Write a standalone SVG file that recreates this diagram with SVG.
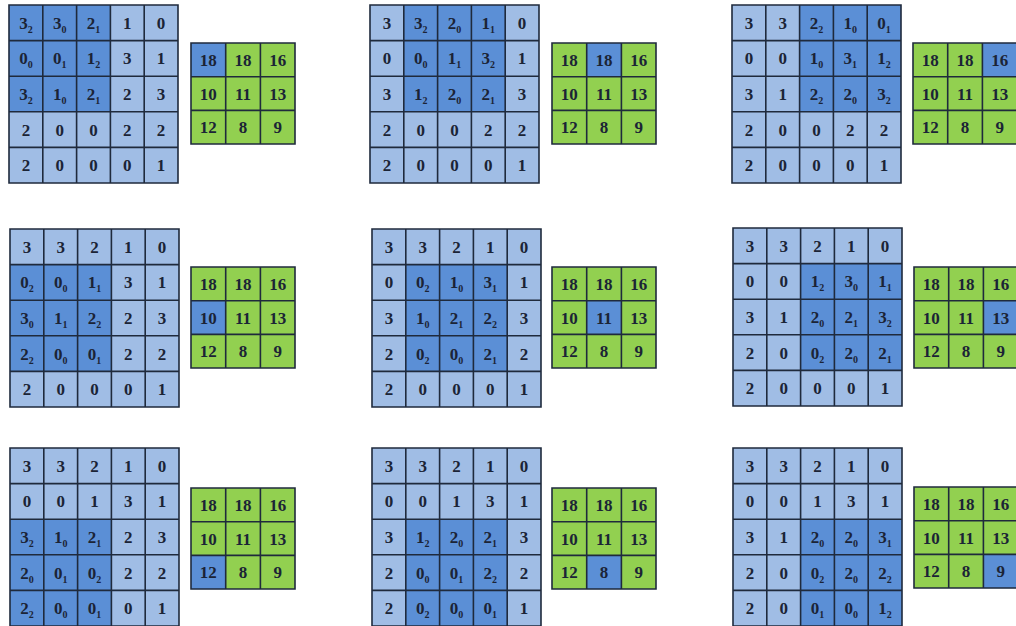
<svg xmlns="http://www.w3.org/2000/svg" xmlns:xlink="http://www.w3.org/1999/xlink" width="1016" height="626" viewBox="0 0 1016 626">
<style>
.L{fill:#a0bde5}
.D{fill:#5b8fd6}
.G{fill:#92d050}
.grid{fill:none;stroke:#1f2a3c;stroke-width:1.6}
text{font-family:"Liberation Serif","Times New Roman",serif;font-weight:bold;font-size:17px;fill:#1b2436;text-anchor:middle}
.s{font-size:10px}
</style>
<defs>
<path id="grid5" class="grid" d="M0,0H169V178H0Z M33.8,0V178 M67.6,0V178 M101.4,0V178 M135.2,0V178 M0,35.6H169 M0,71.2H169 M0,106.8H169 M0,142.4H169"/>
<path id="grid3" class="grid" d="M0,0H104V101H0Z M34.7,0V101 M69.4,0V101 M0,33.7H104 M0,67.4H104"/>
</defs>
<rect width="1016" height="626" fill="#ffffff"/>
<g id="connectors"/>

<!-- Panel 1 -->
<g id="panel-1" transform="translate(9,5)">
<rect class="L" width="169" height="178"/>
<rect class="D" x="0" y="0" width="101.4" height="106.8"/>
<use xlink:href="#grid5" href="#grid5"/>
<text x="16.9" y="23.8">3<tspan class="s" dy="4">2</tspan></text>
<text x="50.7" y="23.8">3<tspan class="s" dy="4">0</tspan></text>
<text x="84.5" y="23.8">2<tspan class="s" dy="4">1</tspan></text>
<text x="118.3" y="23.8">1</text>
<text x="152.1" y="23.8">0</text>
<text x="16.9" y="59.4">0<tspan class="s" dy="4">0</tspan></text>
<text x="50.7" y="59.4">0<tspan class="s" dy="4">1</tspan></text>
<text x="84.5" y="59.4">1<tspan class="s" dy="4">2</tspan></text>
<text x="118.3" y="59.4">3</text>
<text x="152.1" y="59.4">1</text>
<text x="16.9" y="95">3<tspan class="s" dy="4">2</tspan></text>
<text x="50.7" y="95">1<tspan class="s" dy="4">0</tspan></text>
<text x="84.5" y="95">2<tspan class="s" dy="4">1</tspan></text>
<text x="118.3" y="95">2</text>
<text x="152.1" y="95">3</text>
<text x="16.9" y="130.6">2</text>
<text x="50.7" y="130.6">0</text>
<text x="84.5" y="130.6">0</text>
<text x="118.3" y="130.6">2</text>
<text x="152.1" y="130.6">2</text>
<text x="16.9" y="166.2">2</text>
<text x="50.7" y="166.2">0</text>
<text x="84.5" y="166.2">0</text>
<text x="118.3" y="166.2">0</text>
<text x="152.1" y="166.2">1</text>
<g transform="translate(182,38)">
<rect class="G" width="104" height="101"/>
<rect class="D" x="0" y="0" width="34.7" height="33.7"/>
<use xlink:href="#grid3" href="#grid3"/>
<text x="17.35" y="22.9">18</text><text x="52.05" y="22.9">18</text><text x="86.75" y="22.9">16</text>
<text x="17.35" y="56.6">10</text><text x="52.05" y="56.6">11</text><text x="86.75" y="56.6">13</text>
<text x="17.35" y="90.3">12</text><text x="52.05" y="90.3">8</text><text x="86.75" y="90.3">9</text>
</g>
</g>

<!-- Panel 2 -->
<g id="panel-2" transform="translate(370,5)">
<rect class="L" width="169" height="178"/>
<rect class="D" x="33.8" y="0" width="101.4" height="106.8"/>
<use xlink:href="#grid5" href="#grid5"/>
<text x="16.9" y="23.8">3</text>
<text x="50.7" y="23.8">3<tspan class="s" dy="4">2</tspan></text>
<text x="84.5" y="23.8">2<tspan class="s" dy="4">0</tspan></text>
<text x="118.3" y="23.8">1<tspan class="s" dy="4">1</tspan></text>
<text x="152.1" y="23.8">0</text>
<text x="16.9" y="59.4">0</text>
<text x="50.7" y="59.4">0<tspan class="s" dy="4">0</tspan></text>
<text x="84.5" y="59.4">1<tspan class="s" dy="4">1</tspan></text>
<text x="118.3" y="59.4">3<tspan class="s" dy="4">2</tspan></text>
<text x="152.1" y="59.4">1</text>
<text x="16.9" y="95">3</text>
<text x="50.7" y="95">1<tspan class="s" dy="4">2</tspan></text>
<text x="84.5" y="95">2<tspan class="s" dy="4">0</tspan></text>
<text x="118.3" y="95">2<tspan class="s" dy="4">1</tspan></text>
<text x="152.1" y="95">3</text>
<text x="16.9" y="130.6">2</text>
<text x="50.7" y="130.6">0</text>
<text x="84.5" y="130.6">0</text>
<text x="118.3" y="130.6">2</text>
<text x="152.1" y="130.6">2</text>
<text x="16.9" y="166.2">2</text>
<text x="50.7" y="166.2">0</text>
<text x="84.5" y="166.2">0</text>
<text x="118.3" y="166.2">0</text>
<text x="152.1" y="166.2">1</text>
<g transform="translate(182,38)">
<rect class="G" width="104" height="101"/>
<rect class="D" x="34.7" y="0" width="34.7" height="33.7"/>
<use xlink:href="#grid3" href="#grid3"/>
<text x="17.35" y="22.9">18</text><text x="52.05" y="22.9">18</text><text x="86.75" y="22.9">16</text>
<text x="17.35" y="56.6">10</text><text x="52.05" y="56.6">11</text><text x="86.75" y="56.6">13</text>
<text x="17.35" y="90.3">12</text><text x="52.05" y="90.3">8</text><text x="86.75" y="90.3">9</text>
</g>
</g>

<!-- Panel 3 -->
<g id="panel-3" transform="translate(732,5)">
<rect class="L" width="169" height="178"/>
<rect class="D" x="67.6" y="0" width="101.4" height="106.8"/>
<use xlink:href="#grid5" href="#grid5"/>
<text x="16.9" y="23.8">3</text>
<text x="50.7" y="23.8">3</text>
<text x="84.5" y="23.8">2<tspan class="s" dy="4">2</tspan></text>
<text x="118.3" y="23.8">1<tspan class="s" dy="4">0</tspan></text>
<text x="152.1" y="23.8">0<tspan class="s" dy="4">1</tspan></text>
<text x="16.9" y="59.4">0</text>
<text x="50.7" y="59.4">0</text>
<text x="84.5" y="59.4">1<tspan class="s" dy="4">0</tspan></text>
<text x="118.3" y="59.4">3<tspan class="s" dy="4">1</tspan></text>
<text x="152.1" y="59.4">1<tspan class="s" dy="4">2</tspan></text>
<text x="16.9" y="95">3</text>
<text x="50.7" y="95">1</text>
<text x="84.5" y="95">2<tspan class="s" dy="4">2</tspan></text>
<text x="118.3" y="95">2<tspan class="s" dy="4">0</tspan></text>
<text x="152.1" y="95">3<tspan class="s" dy="4">2</tspan></text>
<text x="16.9" y="130.6">2</text>
<text x="50.7" y="130.6">0</text>
<text x="84.5" y="130.6">0</text>
<text x="118.3" y="130.6">2</text>
<text x="152.1" y="130.6">2</text>
<text x="16.9" y="166.2">2</text>
<text x="50.7" y="166.2">0</text>
<text x="84.5" y="166.2">0</text>
<text x="118.3" y="166.2">0</text>
<text x="152.1" y="166.2">1</text>
<g transform="translate(181,38)">
<rect class="G" width="104" height="101"/>
<rect class="D" x="69.4" y="0" width="34.7" height="33.7"/>
<use xlink:href="#grid3" href="#grid3"/>
<text x="17.35" y="22.9">18</text><text x="52.05" y="22.9">18</text><text x="86.75" y="22.9">16</text>
<text x="17.35" y="56.6">10</text><text x="52.05" y="56.6">11</text><text x="86.75" y="56.6">13</text>
<text x="17.35" y="90.3">12</text><text x="52.05" y="90.3">8</text><text x="86.75" y="90.3">9</text>
</g>
</g>

<!-- Panel 4 -->
<g id="panel-4" transform="translate(10,229)">
<rect class="L" width="169" height="178"/>
<rect class="D" x="0" y="35.6" width="101.4" height="106.8"/>
<use xlink:href="#grid5" href="#grid5"/>
<text x="16.9" y="23.8">3</text>
<text x="50.7" y="23.8">3</text>
<text x="84.5" y="23.8">2</text>
<text x="118.3" y="23.8">1</text>
<text x="152.1" y="23.8">0</text>
<text x="16.9" y="59.4">0<tspan class="s" dy="4">2</tspan></text>
<text x="50.7" y="59.4">0<tspan class="s" dy="4">0</tspan></text>
<text x="84.5" y="59.4">1<tspan class="s" dy="4">1</tspan></text>
<text x="118.3" y="59.4">3</text>
<text x="152.1" y="59.4">1</text>
<text x="16.9" y="95">3<tspan class="s" dy="4">0</tspan></text>
<text x="50.7" y="95">1<tspan class="s" dy="4">1</tspan></text>
<text x="84.5" y="95">2<tspan class="s" dy="4">2</tspan></text>
<text x="118.3" y="95">2</text>
<text x="152.1" y="95">3</text>
<text x="16.9" y="130.6">2<tspan class="s" dy="4">2</tspan></text>
<text x="50.7" y="130.6">0<tspan class="s" dy="4">0</tspan></text>
<text x="84.5" y="130.6">0<tspan class="s" dy="4">1</tspan></text>
<text x="118.3" y="130.6">2</text>
<text x="152.1" y="130.6">2</text>
<text x="16.9" y="166.2">2</text>
<text x="50.7" y="166.2">0</text>
<text x="84.5" y="166.2">0</text>
<text x="118.3" y="166.2">0</text>
<text x="152.1" y="166.2">1</text>
<g transform="translate(181,38)">
<rect class="G" width="104" height="101"/>
<rect class="D" x="0" y="33.7" width="34.7" height="33.7"/>
<use xlink:href="#grid3" href="#grid3"/>
<text x="17.35" y="22.9">18</text><text x="52.05" y="22.9">18</text><text x="86.75" y="22.9">16</text>
<text x="17.35" y="56.6">10</text><text x="52.05" y="56.6">11</text><text x="86.75" y="56.6">13</text>
<text x="17.35" y="90.3">12</text><text x="52.05" y="90.3">8</text><text x="86.75" y="90.3">9</text>
</g>
</g>

<!-- Panel 5 -->
<g id="panel-5" transform="translate(372,229)">
<rect class="L" width="169" height="178"/>
<rect class="D" x="33.8" y="35.6" width="101.4" height="106.8"/>
<use xlink:href="#grid5" href="#grid5"/>
<text x="16.9" y="23.8">3</text>
<text x="50.7" y="23.8">3</text>
<text x="84.5" y="23.8">2</text>
<text x="118.3" y="23.8">1</text>
<text x="152.1" y="23.8">0</text>
<text x="16.9" y="59.4">0</text>
<text x="50.7" y="59.4">0<tspan class="s" dy="4">2</tspan></text>
<text x="84.5" y="59.4">1<tspan class="s" dy="4">0</tspan></text>
<text x="118.3" y="59.4">3<tspan class="s" dy="4">1</tspan></text>
<text x="152.1" y="59.4">1</text>
<text x="16.9" y="95">3</text>
<text x="50.7" y="95">1<tspan class="s" dy="4">0</tspan></text>
<text x="84.5" y="95">2<tspan class="s" dy="4">1</tspan></text>
<text x="118.3" y="95">2<tspan class="s" dy="4">2</tspan></text>
<text x="152.1" y="95">3</text>
<text x="16.9" y="130.6">2</text>
<text x="50.7" y="130.6">0<tspan class="s" dy="4">2</tspan></text>
<text x="84.5" y="130.6">0<tspan class="s" dy="4">0</tspan></text>
<text x="118.3" y="130.6">2<tspan class="s" dy="4">1</tspan></text>
<text x="152.1" y="130.6">2</text>
<text x="16.9" y="166.2">2</text>
<text x="50.7" y="166.2">0</text>
<text x="84.5" y="166.2">0</text>
<text x="118.3" y="166.2">0</text>
<text x="152.1" y="166.2">1</text>
<g transform="translate(180,38)">
<rect class="G" width="104" height="101"/>
<rect class="D" x="34.7" y="33.7" width="34.7" height="33.7"/>
<use xlink:href="#grid3" href="#grid3"/>
<text x="17.35" y="22.9">18</text><text x="52.05" y="22.9">18</text><text x="86.75" y="22.9">16</text>
<text x="17.35" y="56.6">10</text><text x="52.05" y="56.6">11</text><text x="86.75" y="56.6">13</text>
<text x="17.35" y="90.3">12</text><text x="52.05" y="90.3">8</text><text x="86.75" y="90.3">9</text>
</g>
</g>

<!-- Panel 6 -->
<g id="panel-6" transform="translate(733,228)">
<rect class="L" width="169" height="178"/>
<rect class="D" x="67.6" y="35.6" width="101.4" height="106.8"/>
<use xlink:href="#grid5" href="#grid5"/>
<text x="16.9" y="23.8">3</text>
<text x="50.7" y="23.8">3</text>
<text x="84.5" y="23.8">2</text>
<text x="118.3" y="23.8">1</text>
<text x="152.1" y="23.8">0</text>
<text x="16.9" y="59.4">0</text>
<text x="50.7" y="59.4">0</text>
<text x="84.5" y="59.4">1<tspan class="s" dy="4">2</tspan></text>
<text x="118.3" y="59.4">3<tspan class="s" dy="4">0</tspan></text>
<text x="152.1" y="59.4">1<tspan class="s" dy="4">1</tspan></text>
<text x="16.9" y="95">3</text>
<text x="50.7" y="95">1</text>
<text x="84.5" y="95">2<tspan class="s" dy="4">0</tspan></text>
<text x="118.3" y="95">2<tspan class="s" dy="4">1</tspan></text>
<text x="152.1" y="95">3<tspan class="s" dy="4">2</tspan></text>
<text x="16.9" y="130.6">2</text>
<text x="50.7" y="130.6">0</text>
<text x="84.5" y="130.6">0<tspan class="s" dy="4">2</tspan></text>
<text x="118.3" y="130.6">2<tspan class="s" dy="4">0</tspan></text>
<text x="152.1" y="130.6">2<tspan class="s" dy="4">1</tspan></text>
<text x="16.9" y="166.2">2</text>
<text x="50.7" y="166.2">0</text>
<text x="84.5" y="166.2">0</text>
<text x="118.3" y="166.2">0</text>
<text x="152.1" y="166.2">1</text>
<g transform="translate(181,39)">
<rect class="G" width="104" height="101"/>
<rect class="D" x="69.4" y="33.7" width="34.7" height="33.7"/>
<use xlink:href="#grid3" href="#grid3"/>
<text x="17.35" y="22.9">18</text><text x="52.05" y="22.9">18</text><text x="86.75" y="22.9">16</text>
<text x="17.35" y="56.6">10</text><text x="52.05" y="56.6">11</text><text x="86.75" y="56.6">13</text>
<text x="17.35" y="90.3">12</text><text x="52.05" y="90.3">8</text><text x="86.75" y="90.3">9</text>
</g>
</g>

<!-- Panel 7 -->
<g id="panel-7" transform="translate(10,448)">
<rect class="L" width="169" height="178"/>
<rect class="D" x="0" y="71.2" width="101.4" height="106.8"/>
<use xlink:href="#grid5" href="#grid5"/>
<text x="16.9" y="23.8">3</text>
<text x="50.7" y="23.8">3</text>
<text x="84.5" y="23.8">2</text>
<text x="118.3" y="23.8">1</text>
<text x="152.1" y="23.8">0</text>
<text x="16.9" y="59.4">0</text>
<text x="50.7" y="59.4">0</text>
<text x="84.5" y="59.4">1</text>
<text x="118.3" y="59.4">3</text>
<text x="152.1" y="59.4">1</text>
<text x="16.9" y="95">3<tspan class="s" dy="4">2</tspan></text>
<text x="50.7" y="95">1<tspan class="s" dy="4">0</tspan></text>
<text x="84.5" y="95">2<tspan class="s" dy="4">1</tspan></text>
<text x="118.3" y="95">2</text>
<text x="152.1" y="95">3</text>
<text x="16.9" y="130.6">2<tspan class="s" dy="4">0</tspan></text>
<text x="50.7" y="130.6">0<tspan class="s" dy="4">1</tspan></text>
<text x="84.5" y="130.6">0<tspan class="s" dy="4">2</tspan></text>
<text x="118.3" y="130.6">2</text>
<text x="152.1" y="130.6">2</text>
<text x="16.9" y="166.2">2<tspan class="s" dy="4">2</tspan></text>
<text x="50.7" y="166.2">0<tspan class="s" dy="4">0</tspan></text>
<text x="84.5" y="166.2">0<tspan class="s" dy="4">1</tspan></text>
<text x="118.3" y="166.2">0</text>
<text x="152.1" y="166.2">1</text>
<g transform="translate(181,40)">
<rect class="G" width="104" height="101"/>
<rect class="D" x="0" y="67.4" width="34.7" height="33.7"/>
<use xlink:href="#grid3" href="#grid3"/>
<text x="17.35" y="22.9">18</text><text x="52.05" y="22.9">18</text><text x="86.75" y="22.9">16</text>
<text x="17.35" y="56.6">10</text><text x="52.05" y="56.6">11</text><text x="86.75" y="56.6">13</text>
<text x="17.35" y="90.3">12</text><text x="52.05" y="90.3">8</text><text x="86.75" y="90.3">9</text>
</g>
</g>

<!-- Panel 8 -->
<g id="panel-8" transform="translate(372,448)">
<rect class="L" width="169" height="178"/>
<rect class="D" x="33.8" y="71.2" width="101.4" height="106.8"/>
<use xlink:href="#grid5" href="#grid5"/>
<text x="16.9" y="23.8">3</text>
<text x="50.7" y="23.8">3</text>
<text x="84.5" y="23.8">2</text>
<text x="118.3" y="23.8">1</text>
<text x="152.1" y="23.8">0</text>
<text x="16.9" y="59.4">0</text>
<text x="50.7" y="59.4">0</text>
<text x="84.5" y="59.4">1</text>
<text x="118.3" y="59.4">3</text>
<text x="152.1" y="59.4">1</text>
<text x="16.9" y="95">3</text>
<text x="50.7" y="95">1<tspan class="s" dy="4">2</tspan></text>
<text x="84.5" y="95">2<tspan class="s" dy="4">0</tspan></text>
<text x="118.3" y="95">2<tspan class="s" dy="4">1</tspan></text>
<text x="152.1" y="95">3</text>
<text x="16.9" y="130.6">2</text>
<text x="50.7" y="130.6">0<tspan class="s" dy="4">0</tspan></text>
<text x="84.5" y="130.6">0<tspan class="s" dy="4">1</tspan></text>
<text x="118.3" y="130.6">2<tspan class="s" dy="4">2</tspan></text>
<text x="152.1" y="130.6">2</text>
<text x="16.9" y="166.2">2</text>
<text x="50.7" y="166.2">0<tspan class="s" dy="4">2</tspan></text>
<text x="84.5" y="166.2">0<tspan class="s" dy="4">0</tspan></text>
<text x="118.3" y="166.2">0<tspan class="s" dy="4">1</tspan></text>
<text x="152.1" y="166.2">1</text>
<g transform="translate(180,40)">
<rect class="G" width="104" height="101"/>
<rect class="D" x="34.7" y="67.4" width="34.7" height="33.7"/>
<use xlink:href="#grid3" href="#grid3"/>
<text x="17.35" y="22.9">18</text><text x="52.05" y="22.9">18</text><text x="86.75" y="22.9">16</text>
<text x="17.35" y="56.6">10</text><text x="52.05" y="56.6">11</text><text x="86.75" y="56.6">13</text>
<text x="17.35" y="90.3">12</text><text x="52.05" y="90.3">8</text><text x="86.75" y="90.3">9</text>
</g>
</g>

<!-- Panel 9 -->
<g id="panel-9" transform="translate(733,448)">
<rect class="L" width="169" height="178"/>
<rect class="D" x="67.6" y="71.2" width="101.4" height="106.8"/>
<use xlink:href="#grid5" href="#grid5"/>
<text x="16.9" y="23.8">3</text>
<text x="50.7" y="23.8">3</text>
<text x="84.5" y="23.8">2</text>
<text x="118.3" y="23.8">1</text>
<text x="152.1" y="23.8">0</text>
<text x="16.9" y="59.4">0</text>
<text x="50.7" y="59.4">0</text>
<text x="84.5" y="59.4">1</text>
<text x="118.3" y="59.4">3</text>
<text x="152.1" y="59.4">1</text>
<text x="16.9" y="95">3</text>
<text x="50.7" y="95">1</text>
<text x="84.5" y="95">2<tspan class="s" dy="4">0</tspan></text>
<text x="118.3" y="95">2<tspan class="s" dy="4">0</tspan></text>
<text x="152.1" y="95">3<tspan class="s" dy="4">1</tspan></text>
<text x="16.9" y="130.6">2</text>
<text x="50.7" y="130.6">0</text>
<text x="84.5" y="130.6">0<tspan class="s" dy="4">2</tspan></text>
<text x="118.3" y="130.6">2<tspan class="s" dy="4">0</tspan></text>
<text x="152.1" y="130.6">2<tspan class="s" dy="4">2</tspan></text>
<text x="16.9" y="166.2">2</text>
<text x="50.7" y="166.2">0</text>
<text x="84.5" y="166.2">0<tspan class="s" dy="4">1</tspan></text>
<text x="118.3" y="166.2">0<tspan class="s" dy="4">0</tspan></text>
<text x="152.1" y="166.2">1<tspan class="s" dy="4">2</tspan></text>
<g transform="translate(181,39)">
<rect class="G" width="104" height="101"/>
<rect class="D" x="69.4" y="67.4" width="34.7" height="33.7"/>
<use xlink:href="#grid3" href="#grid3"/>
<text x="17.35" y="22.9">18</text><text x="52.05" y="22.9">18</text><text x="86.75" y="22.9">16</text>
<text x="17.35" y="56.6">10</text><text x="52.05" y="56.6">11</text><text x="86.75" y="56.6">13</text>
<text x="17.35" y="90.3">12</text><text x="52.05" y="90.3">8</text><text x="86.75" y="90.3">9</text>
</g>
</g>
</svg>
